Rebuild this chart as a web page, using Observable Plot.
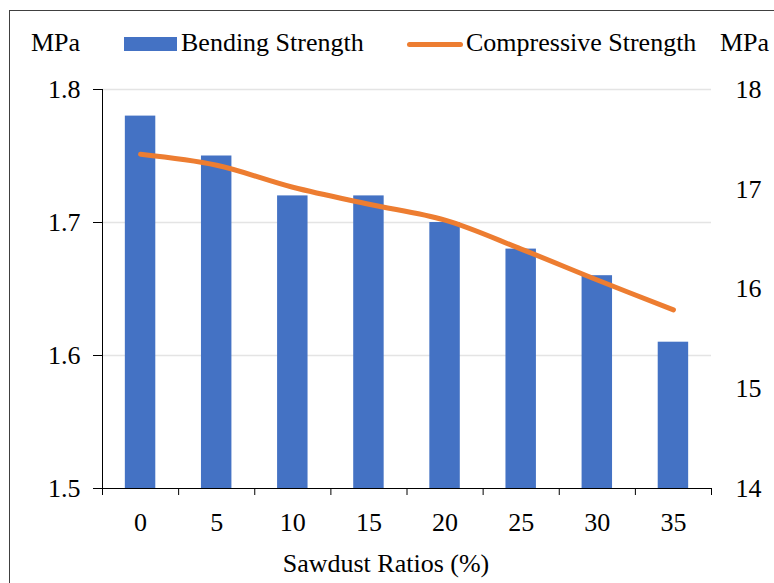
<!DOCTYPE html>
<html>
<head>
<meta charset="utf-8">
<script src="https://cdn.jsdelivr.net/npm/d3@7"></script>
<script src="https://cdn.jsdelivr.net/npm/@observablehq/plot@0.6"></script>
<style>
  body { margin: 0; background: #fff; font-family: "Liberation Serif", serif; }
  #wrap { position: relative; width: 774px; height: 583px; overflow: hidden; background: #fff; }
  #frame { position: absolute; left: 9px; top: 10px; width: 900px; height: 700px; border: 1px solid #404040; box-sizing: border-box; }
  #chart { position: absolute; left: 0; top: 0; }
  .txt { position: absolute; font-size: 26px; line-height: 26px; color: #000; white-space: nowrap; }
  .sw { position: absolute; }
</style>
</head>
<body>
<div id="wrap">
  <div id="frame"></div>
  <div id="chart"></div>
  <div class="txt" style="left:31px; top:30px;">MPa</div>
  <div class="sw" style="left:124px; top:37px; width:53px; height:14px; background:#4472C4;"></div>
  <div class="txt" style="left:181px; top:30px;">Bending Strength</div>
  <div class="sw" style="left:407px; top:42px; width:56px; height:5px; border-radius:3px; background:#ED7D31;"></div>
  <div class="txt" style="left:466px; top:30px;">Compressive Strength</div>
  <div class="txt" style="left:720px; top:30px;">MPa</div>
  <div class="txt" style="left:386px; top:551px; transform:translateX(-50%);">Sawdust Ratios (%)</div>
</div>
<script>
// Sawdust ratio (%) in the mix
const ratios = [0, 5, 10, 15, 20, 25, 30, 35];
// Bending strength, MPa (left axis)
const bending = [1.78, 1.75, 1.72, 1.72, 1.70, 1.68, 1.66, 1.61];
// Compressive strength, MPa (right axis)
const compressive = [17.35, 17.24, 17.02, 16.85, 16.69, 16.40, 16.09, 15.79];
// Axis ticks
const leftTicks = [1.5, 1.6, 1.7, 1.8];
const rightTicks = [14, 15, 16, 17, 18];

// The right axis shares the plot's y scale through a linear mapping
const L = [leftTicks[0], leftTicks[leftTicks.length - 1]];
const R = [rightTicks[0], rightTicks[rightTicks.length - 1]];
const toLeft = v => L[0] + (v - R[0]) * (L[1] - L[0]) / (R[1] - R[0]);
const toRight = v => R[0] + (v - L[0]) * (R[1] - R[0]) / (L[1] - L[0]);

const step = ratios[1] - ratios[0];
const bounds = d3.range(ratios.length + 1).map(i => ratios[0] - step / 2 + i * step);
const halfBar = step * 0.2;

const rows = ratios.map((r, i) => ({ r, b: bending[i], c: compressive[i] }));

const serif = "Liberation Serif";

const chart = Plot.plot({
  width: 774,
  height: 583,
  marginLeft: 102,
  marginRight: 63,
  marginTop: 89,
  marginBottom: 95,
  style: { fontFamily: serif, fontSize: "26px", color: "#000", background: "transparent", overflow: "visible" },
  x: { type: "linear", domain: [bounds[0], bounds[bounds.length - 1]] },
  y: { domain: L },
  marks: [
    Plot.ruleY(leftTicks.slice(1), { stroke: "#e4e4e4", strokeWidth: 1.5 }),
    Plot.rect(rows, { x1: d => d.r - halfBar, x2: d => d.r + halfBar, y1: () => L[0], y2: "b", fill: "#4472C4" }),
    Plot.line(rows, { x: "r", y: d => toLeft(d.c), stroke: "#ED7D31", strokeWidth: 5, curve: "catmull-rom", strokeLinecap: "round", strokeLinejoin: "round" }),
    Plot.ruleX([bounds[0]], { stroke: "#000", strokeWidth: 1 }),
    Plot.ruleY([L[0]], { stroke: "#000", strokeWidth: 1 }),
    Plot.axisY({ ticks: leftTicks, tickSize: 9, tickPadding: 13, tickFormat: d3.format(".1f"), label: null }),
    Plot.axisY({ anchor: "right", ticks: rightTicks.map(toLeft), tickSize: 0, tickPadding: 24, tickFormat: d => String(Math.round(toRight(d))), label: null }),
    Plot.axisX({ ticks: bounds, tickSize: 7, tickFormat: () => "", label: null }),
    Plot.axisX({ ticks: ratios, tickSize: 0, tickPadding: 24, label: null })
  ]
});
// Tick labels in the same serif face as the legend
d3.select(chart).selectAll("g, text")
  .attr("font-family", serif)
  .style("font-family", serif)
  .style("font-variant", "normal");
document.getElementById("chart").appendChild(chart);
</script>
</body>
</html>
